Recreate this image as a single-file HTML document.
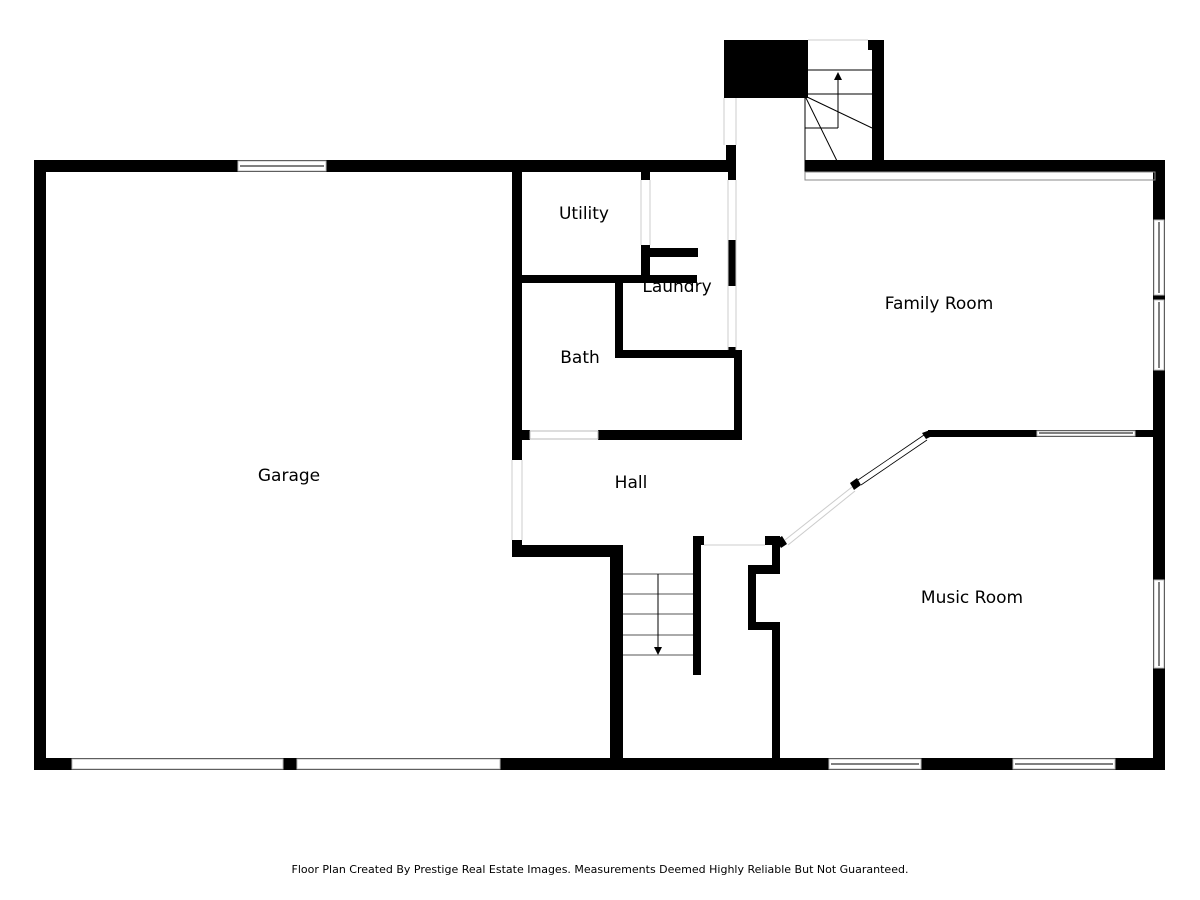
<!DOCTYPE html>
<html><head><style>body{margin:0;background:#fff}svg{display:block}</style></head><body>
<svg width="1200" height="900" viewBox="0 0 1200 900" xmlns="http://www.w3.org/2000/svg" font-family="'DejaVu Sans','Liberation Sans',sans-serif">
<rect width="1200" height="900" fill="#fff"/>
<g fill="#000">
<!-- outer -->
<rect x="34" y="160" width="702" height="12"/>
<rect x="805" y="160" width="360" height="12"/>
<rect x="34" y="160" width="12" height="610"/>
<rect x="34" y="758" width="1131" height="12"/>
<rect x="1153" y="160" width="12" height="610"/>
<!-- chimney/stair -->
<rect x="724" y="40" width="84" height="58"/>
<rect x="724" y="40" width="12" height="58"/>
<rect x="726" y="145" width="10" height="27"/>
<rect x="872" y="40" width="12" height="132"/>
<rect x="868" y="40" width="16" height="10"/>
<!-- interior -->
<rect x="512" y="172" width="10" height="288"/>
<rect x="512" y="540" width="10" height="17"/>
<rect x="512" y="545" width="111" height="12"/>
<rect x="610" y="545" width="13" height="225"/>
<rect x="522" y="275" width="175" height="8"/>
<rect x="641" y="172" width="9" height="8"/>
<rect x="641" y="245" width="9" height="38"/>
<rect x="650" y="248" width="48" height="9"/>
<rect x="615" y="283" width="8" height="75"/>
<rect x="615" y="350" width="127" height="8"/>
<rect x="734" y="350" width="8" height="90"/>
<rect x="598" y="430" width="144" height="10"/>
<rect x="512" y="430" width="18" height="10"/>
<rect x="728" y="172" width="8" height="8"/>
<rect x="728" y="240" width="8" height="46"/>
<rect x="728" y="347" width="8" height="6"/>
<rect x="693" y="536" width="8" height="139"/>
<rect x="693" y="536" width="11" height="9"/>
<rect x="765" y="536" width="15" height="9"/>
<rect x="772" y="536" width="8" height="34"/>
<rect x="748" y="565" width="32" height="9"/>
<rect x="748" y="565" width="8" height="65"/>
<rect x="748" y="622" width="32" height="8"/>
<rect x="772" y="622" width="8" height="148"/>
<rect x="928" y="430" width="237" height="7"/>
<polygon points="776,540 782,536 787,544 781,548"/>
<polygon points="850,483 857,478 861,485 854,490"/>
<polygon points="922,433 930,430 930,437 926,439"/>
</g>
<g fill="#fff" stroke="#bbb" stroke-width="1">
<rect x="238" y="161" width="88" height="10"/>
<rect x="72" y="759" width="211" height="10"/>
<rect x="297" y="759" width="203" height="10"/>
<rect x="829" y="759" width="92" height="10"/>
<rect x="1013" y="759" width="102" height="10"/>
<rect x="1154" y="220" width="10" height="75"/>
<rect x="1154" y="300" width="10" height="70"/>
<rect x="1154" y="580" width="10" height="88"/>
<rect x="1037" y="431" width="98" height="5"/>
<rect x="530" y="431" width="68" height="8"/>
</g>
<g stroke="#000" stroke-width="1" fill="none">
<line x1="831" y1="764" x2="919" y2="764"/>
<line x1="1015" y1="764" x2="1113" y2="764"/>
<line x1="1159" y1="222" x2="1159" y2="293"/>
<line x1="1159" y1="302" x2="1159" y2="368"/>
<line x1="1159" y1="582" x2="1159" y2="666"/>
<line x1="240" y1="166" x2="324" y2="166"/>
<line x1="1039" y1="433" x2="1133" y2="433"/>
<line x1="858" y1="480" x2="924" y2="435" stroke-width="0.8"/>
<line x1="861" y1="485" x2="927" y2="440" stroke-width="0.8"/>
<line x1="808" y1="70" x2="872" y2="70"/>
<line x1="808" y1="94" x2="872" y2="94"/>
<line x1="805" y1="128" x2="838" y2="128"/>
<line x1="838" y1="128" x2="838" y2="78"/>
<line x1="805" y1="96" x2="805" y2="180"/>
<line x1="805" y1="96" x2="838" y2="163"/>
<line x1="805" y1="96" x2="872" y2="128"/>
<rect x="805" y="172" width="350" height="8" stroke="#888"/>
<line x1="623" y1="574" x2="693" y2="574" stroke="#555"/>
<line x1="623" y1="594" x2="693" y2="594" stroke="#555"/>
<line x1="623" y1="614" x2="693" y2="614" stroke="#555"/>
<line x1="623" y1="635" x2="693" y2="635" stroke="#555"/>
<line x1="623" y1="655" x2="693" y2="655" stroke="#555"/>
<line x1="658" y1="574" x2="658" y2="650"/>
</g>
<g stroke="#ccc" stroke-width="1" fill="none">
<line x1="808" y1="40" x2="868" y2="40"/>
<line x1="724" y1="98" x2="724" y2="145"/>
<line x1="736" y1="98" x2="736" y2="145"/>
<line x1="641" y1="180" x2="641" y2="245"/>
<line x1="650" y1="180" x2="650" y2="245"/>
<line x1="728" y1="180" x2="728" y2="350"/>
<line x1="736" y1="180" x2="736" y2="350"/>
<line x1="512" y1="460" x2="512" y2="540"/>
<line x1="522" y1="460" x2="522" y2="540"/>
<line x1="704" y1="545" x2="765" y2="545"/>
<line x1="785" y1="540" x2="852" y2="487"/>
<line x1="788" y1="545" x2="855" y2="491"/>
</g>
<polygon points="834,80 842,80 838,72" fill="#000"/>
<polygon points="654,647 662,647 658,655" fill="#000"/>
<g font-size="17" fill="#000" text-anchor="middle">
<text x="289" y="481">Garage</text>
<text x="584" y="219">Utility</text>
<text x="677" y="292">Laundry</text>
<text x="580" y="363">Bath</text>
<text x="939" y="309">Family Room</text>
<text x="631" y="488">Hall</text>
<text x="972" y="603">Music Room</text>
</g>
<text x="600" y="873" font-size="11" text-anchor="middle" fill="#000">Floor Plan Created By Prestige Real Estate Images. Measurements Deemed Highly Reliable But Not Guaranteed.</text>
</svg>
</body></html>
